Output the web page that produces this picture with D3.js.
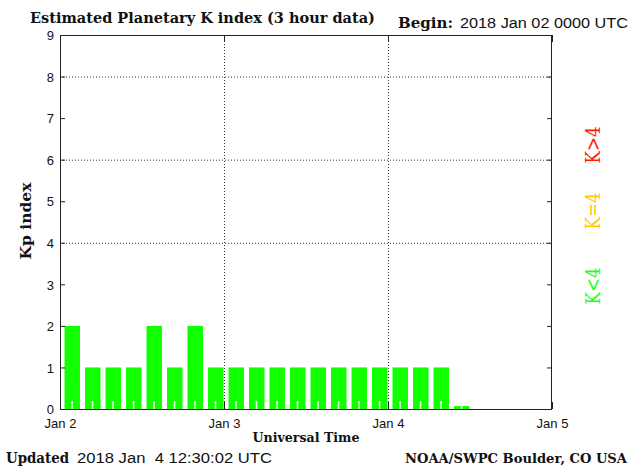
<!DOCTYPE html>
<html><head><meta charset="utf-8">
<script src="https://cdn.jsdelivr.net/npm/d3@7"></script>
<style>
html,body{margin:0;padding:0;background:#fff;}
svg{display:block;}
text{white-space:pre;}
</style></head>
<body>
<script>
// ---- data ----
const startTimes = [
  "2018-01-02T00:00Z","2018-01-02T03:00Z","2018-01-02T06:00Z","2018-01-02T09:00Z",
  "2018-01-02T12:00Z","2018-01-02T15:00Z","2018-01-02T18:00Z","2018-01-02T21:00Z",
  "2018-01-03T00:00Z","2018-01-03T03:00Z","2018-01-03T06:00Z","2018-01-03T09:00Z",
  "2018-01-03T12:00Z","2018-01-03T15:00Z","2018-01-03T18:00Z","2018-01-03T21:00Z",
  "2018-01-04T00:00Z","2018-01-04T03:00Z","2018-01-04T06:00Z","2018-01-04T09:00Z"
];
const kpValues = [2,1,1,1,2,1,2,1, 1,1,1,1,1,1,1,1, 1,1,1,0.07];
const yTicks = [0,1,2,3,4,5,6,7,8,9];
const gridY = [4,6,8];
const xTickDates = ["2018-01-02T00:00Z","2018-01-03T00:00Z","2018-01-04T00:00Z","2018-01-05T00:00Z"];
const xTickLabels = ["Jan 2","Jan 3","Jan 4","Jan 5"];
const legendLabels = ["K>4","K=4","K<4"];
const legendColors = ["#ff1a00","#ffcc00","#22ff22"];

const W = 640, H = 473;
const svg = d3.select("body").append("svg").attr("width", W).attr("height", H);

const L = 60, R = 552, T = 35, B = 409;
const x = d3.scaleUtc().domain([new Date(xTickDates[0]), new Date(xTickDates[3])]).range([L, R]);
const y = d3.scaleLinear().domain([0, 9]).range([B, T]);

const serif = "'DejaVu Serif', serif";
const sans = "'Liberation Sans', Arial, sans-serif";

// grid
svg.append("g").selectAll("line").data(gridY).join("line")
  .attr("x1", L).attr("x2", R).attr("y1", d => y(d) + 0.5).attr("y2", d => y(d) + 0.5)
  .attr("stroke", "#333").attr("stroke-width", 1).attr("stroke-dasharray", "1,2");
svg.append("g").selectAll("line").data(xTickDates.slice(1, 3)).join("line")
  .attr("x1", d => x(new Date(d)) + 0.5).attr("x2", d => x(new Date(d)) + 0.5)
  .attr("y1", T).attr("y2", B)
  .attr("stroke", "#333").attr("stroke-width", 1).attr("stroke-dasharray", "1,2");

// bars
const data = startTimes.map((t, i) => ({ t0: new Date(t), t1: new Date(new Date(t).getTime() + 3 * 3600e3), v: kpValues[i] }));
const bars = svg.append("g");
bars.selectAll("rect.bar").data(data).join("rect").attr("class", "bar")
  .attr("x", d => x(d.t0) + 4.5)
  .attr("width", d => x(d.t1) - x(d.t0) - 5)
  .attr("y", d => y(d.v))
  .attr("height", d => B - y(d.v))
  .attr("fill", "#11ff00");
bars.selectAll("rect.notch").data(data).join("rect").attr("class", "notch")
  .attr("x", d => (x(d.t0) + 4.5 + x(d.t1) - 0.5) / 2 - 1)
  .attr("width", 1.6)
  .attr("y", B - 8)
  .attr("height", 8)
  .attr("fill", "#e6ffe0");

// axes
const axL = svg.append("g").attr("transform", `translate(${L},0)`)
  .call(d3.axisLeft(y).tickValues(yTicks).tickFormat(d3.format("d")).tickSize(-5).tickPadding(6));
const axR = svg.append("g").attr("transform", `translate(${R},0)`)
  .call(d3.axisRight(y).tickValues(yTicks).tickFormat("").tickSize(-5));
const axB = svg.append("g").attr("transform", `translate(0,${B})`)
  .call(d3.axisBottom(x).tickValues(xTickDates.map(d => new Date(d))).tickFormat((d, i) => xTickLabels[i]).tickSize(-7).tickPadding(10));
const axT = svg.append("g").attr("transform", `translate(0,${T})`)
  .call(d3.axisTop(x).tickValues(xTickDates.map(d => new Date(d))).tickFormat("").tickSize(-7));
[axL, axR, axB, axT].forEach(g => {
  g.select(".domain").remove();
  g.selectAll(".tick line").attr("stroke", "#222");
  g.selectAll("text").attr("font-family", sans).attr("font-size", 13).attr("fill", "#111");
});
axB.selectAll("text").attr("dy", null).attr("y", 19);
axL.selectAll("text").attr("dy", "0.36em");

// frame
svg.append("rect").attr("x", L + 0.5).attr("y", T + 0.5).attr("width", R - L - 1).attr("height", B - T)
  .attr("fill", "none").attr("stroke", "#222").attr("stroke-width", 1);

// texts
function txt(s, xx, yy, opt) {
  const t = svg.append("text").attr("x", xx).attr("y", yy).text(s)
    .attr("font-family", opt.family).attr("font-size", opt.size)
    .attr("font-weight", opt.weight || "normal").attr("fill", opt.fill || "#111");
  if (opt.anchor) t.attr("text-anchor", opt.anchor);
  if (opt.len) t.attr("textLength", opt.len).attr("lengthAdjust", "spacingAndGlyphs");
  if (opt.rot) t.attr("transform", `rotate(-90,${xx},${yy})`);
  return t;
}
txt("Estimated Planetary K index (3 hour data)", 30, 23, { family: serif, size: 14, weight: "bold", len: 345 });
txt("Begin:", 398, 28, { family: serif, size: 14, weight: "bold", len: 55 });
txt("2018 Jan 02 0000 UTC", 460, 28, { family: sans, size: 14, len: 168 });
txt("Universal Time", 306, 442, { family: serif, size: 13, weight: "bold", anchor: "middle", len: 107 });
txt("Kp index", 31, 221, { family: serif, size: 14, weight: "bold", anchor: "middle", len: 77, rot: true });
txt("Updated", 6, 463, { family: serif, size: 14, weight: "bold", len: 63 });
txt("2018 Jan  4 12:30:02 UTC", 77, 463, { family: sans, size: 14, len: 195 });
txt("NOAA/SWPC Boulder, CO USA", 405, 463, { family: serif, size: 13, weight: "bold", len: 222 });

const legendCY = [145, 211, 286];
legendLabels.forEach((s, i) => {
  txt(s, 600, legendCY[i], { family: serif, size: 20, fill: legendColors[i], anchor: "middle", len: 37, rot: true });
});
</script>
</body></html>
